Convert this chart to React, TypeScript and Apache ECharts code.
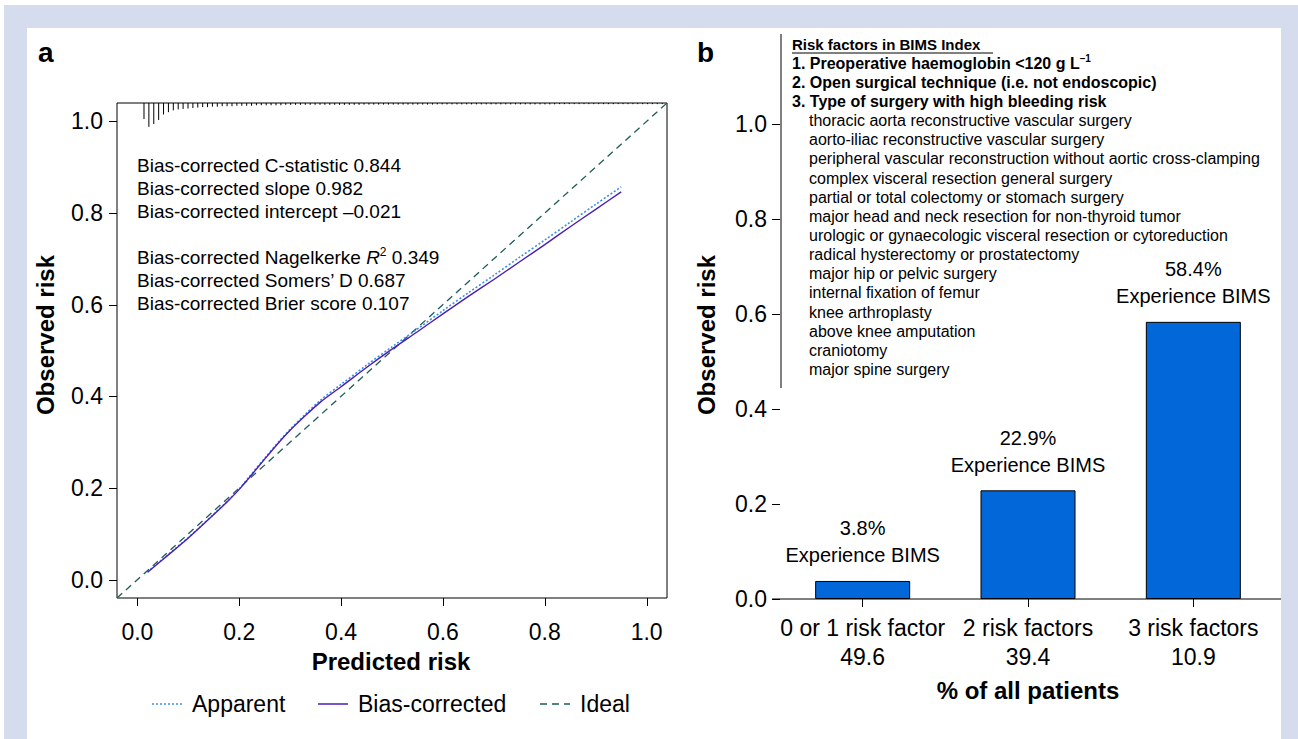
import React, { useEffect, useRef } from "react";
import * as echarts from "echarts";

const FONT = '"Liberation Sans", Arial, Helvetica, sans-serif';

// ---------- Panel a: calibration ----------
const predictedRisk = [0.02, 0.05, 0.08, 0.1, 0.12, 0.15, 0.18, 0.2, 0.22, 0.25, 0.28, 0.3, 0.33, 0.36, 0.4, 0.45, 0.5, 0.55, 0.6, 0.65, 0.7, 0.75, 0.8, 0.85, 0.9, 0.95];
const observedBiasCorrected = [0.016, 0.044, 0.072, 0.091, 0.111, 0.142, 0.174, 0.197, 0.223, 0.263, 0.302, 0.326, 0.358, 0.388, 0.421, 0.463, 0.503, 0.541, 0.58, 0.618, 0.655, 0.693, 0.731, 0.77, 0.808, 0.846];
const observedApparent = [0.017, 0.045, 0.073, 0.092, 0.112, 0.143, 0.175, 0.198, 0.225, 0.265, 0.304, 0.328, 0.361, 0.392, 0.426, 0.468, 0.508, 0.547, 0.587, 0.626, 0.664, 0.703, 0.741, 0.78, 0.819, 0.857];
const idealX = [-0.04, 1.04];
const axisTicksA = [0, 0.2, 0.4, 0.6, 0.8, 1.0];

// distribution of predicted values (spike histogram at top)
const rugStart = 0.013;
const rugStep = 0.0096;
const rugHeights = [
  0.035, 0.052, 0.046, 0.037, 0.025, 0.02, 0.016, 0.014, 0.013, 0.012,
  0.011, 0.01, 0.009, 0.009, 0.008, 0.008, 0.007, 0.007, 0.007, 0.006,
  0.006, 0.006, 0.006, 0.005, 0.005, 0.005, 0.005, 0.005, 0.005, 0.004,
  0.004, 0.004, 0.004, 0.004, 0.004, 0.004, 0.004, 0.004, 0.004, 0.004,
  0.004, 0.004, 0.004, 0.004, 0.004, 0.0035, 0.0035, 0.0035, 0.0035, 0.0035,
  0.0035, 0.0035, 0.0035, 0.0035, 0.0035, 0.0035, 0.0035, 0.0035, 0.0035, 0.0035,
  0.003, 0.003, 0.003, 0.003, 0.003, 0.003, 0.003, 0.003, 0.003, 0.003,
  0.003, 0.003, 0.003, 0.003, 0.003, 0.003, 0.003, 0.003, 0.003, 0.003,
  0.003, 0.003, 0.003, 0.003, 0.003, 0.0025, 0.0025, 0.0025, 0.0025, 0.0025,
  0.0025, 0.0025, 0.0025, 0.0025, 0.0025, 0.0025, 0.0025, 0.0025, 0.0025, 0.0025,
  0.0025, 0.0025, 0.0025, 0.0025, 0.0025, 0.0025, 0.0025,
];

const statsLines = [
  "Bias-corrected C-statistic 0.844",
  "Bias-corrected slope 0.982",
  "Bias-corrected intercept \u20130.021",
  "",
  "Bias-corrected Nagelkerke {it|R}{sup|2} 0.349",
  "Bias-corrected Somers\u2019 D 0.687",
  "Bias-corrected Brier score 0.107",
];
const legendNames = ["Apparent", "Bias-corrected", "Ideal"];

// ---------- Panel b: BIMS ----------
const riskCategories = ["0 or 1 risk factor", "2 risk factors", "3 risk factors"];
const patientShare = ["49.6", "39.4", "10.9"];
const bimsRate = [0.038, 0.229, 0.584];
const axisTicksB = [0, 0.2, 0.4, 0.6, 0.8, 1.0];

const boxTitle = "Risk factors in BIMS Index";
const boxCriteria = [
  "1. Preoperative haemoglobin <120 g L{sup|\u20131}",
  "2. Open surgical technique (i.e. not endoscopic)",
  "3. Type of surgery with high bleeding risk",
];
const boxSurgeries = [
  "thoracic aorta reconstructive vascular surgery",
  "aorto-iliac reconstructive vascular surgery",
  "peripheral vascular reconstruction without aortic cross-clamping",
  "complex visceral resection general surgery",
  "partial or total colectomy or stomach surgery",
  "major head and neck resection for non-thyroid tumor",
  "urologic or gynaecologic visceral resection or cytoreduction",
  "radical hysterectomy or prostatectomy",
  "major hip or pelvic surgery",
  "internal fixation of femur",
  "knee arthroplasty",
  "above knee amputation",
  "craniotomy",
  "major spine surgery",
];

const C_APPARENT = "#3a8fe8";
const C_BIAS = "#4a1db5";
const C_IDEAL = "#1d5c57";
const C_BAR = "#0268d9";

// panel a plot region (grid geometry) and axis range
const GA = { left: 117, top: 103, width: 550, height: 495 };
const A_MIN = -0.04;
const A_MAX = 1.04;

function buildOption() {
  const graphic: any[] = [];
  const txt = (x: number, y: number, text: string, opts: any = {}) =>
    graphic.push({
      type: "text",
      x,
      y,
      rotation: opts.rotation || 0,
      style: {
        text,
        fill: "#000",
        fontFamily: FONT,
        fontSize: opts.size || 16,
        fontWeight: opts.bold ? "bold" : "normal",
        align: opts.align || "left",
        verticalAlign: "middle",
        rich: opts.rich,
      },
    });

  // panel labels
  txt(38, 52, "a", { size: 28, bold: true });
  txt(697, 52, "b", { size: 28, bold: true });

  // panel a stats
  const statRich = {
    it: { fontStyle: "italic", fontSize: 19, fontFamily: FONT },
    sup: { fontSize: 12, fontFamily: FONT, padding: [0, 0, 10, 0] },
  };
  statsLines.forEach((s, i) => {
    if (s) txt(137, 165 + i * 23, s, { size: 19, rich: statRich });
  });

  // axis titles
  txt(391, 661, "Predicted risk", { size: 24, bold: true, align: "center" });
  txt(45, 335, "Observed risk", { size: 24, bold: true, align: "center", rotation: Math.PI / 2 });
  txt(706, 335, "Observed risk", { size: 24, bold: true, align: "center", rotation: Math.PI / 2 });
  txt(1028, 690, "% of all patients", { size: 24, bold: true, align: "center" });

  // legend (panel a)
  const legendX = [152, 318, 540];
  const legendStyles = [
    { stroke: C_APPARENT, lineWidth: 1.5, lineDash: [2, 2] },
    { stroke: C_BIAS, lineWidth: 1.5 },
    { stroke: C_IDEAL, lineWidth: 1.3, lineDash: [7, 5] },
  ];
  legendNames.forEach((n, i) => {
    graphic.push({
      type: "line",
      shape: { x1: legendX[i], y1: 704, x2: legendX[i] + 30, y2: 704 },
      style: legendStyles[i],
    });
    txt(legendX[i] + 40, 704, n, { size: 23 });
  });

  // panel b text box
  const boxRich = { sup: { fontSize: 10, fontWeight: "bold", fontFamily: FONT, padding: [0, 0, 9, 0] } };
  const lineGap = 19.15;
  txt(792, 44, boxTitle, { size: 15, bold: true });
  graphic.push({ type: "line", shape: { x1: 792, y1: 53, x2: 993, y2: 53 }, style: { stroke: "#000", lineWidth: 1 } });
  boxCriteria.forEach((s, i) => txt(792, 44 + (i + 1) * lineGap, s, { size: 16, bold: true, rich: boxRich }));
  boxSurgeries.forEach((s, i) => txt(809, 44 + (i + 4) * lineGap, s, { size: 16 }));
  graphic.push({ type: "line", shape: { x1: 781, y1: 34, x2: 781, y2: 388 }, style: { stroke: "#000", lineWidth: 1 } });
  // panel b x axis line
  graphic.push({ type: "line", shape: { x1: 772, y1: 599, x2: 1281, y2: 599 }, style: { stroke: "#000", lineWidth: 1 } });

  // panel a outward tick marks at the axis tick values
  const bottom = GA.top + GA.height;
  axisTicksA.forEach((v) => {
    const f = (v - A_MIN) / (A_MAX - A_MIN);
    const px = Math.round(GA.left + f * GA.width) + 0.5;
    const py = Math.round(bottom - f * GA.height) + 0.5;
    graphic.push({ type: "line", z: 100, shape: { x1: px, y1: bottom, x2: px, y2: bottom + 8 }, style: { stroke: "#000", lineWidth: 1 } });
    graphic.push({ type: "line", z: 100, shape: { x1: GA.left - 8, y1: py, x2: GA.left, y2: py }, style: { stroke: "#000", lineWidth: 1 } });
  });

  const fmt1 = (v: number) => v.toFixed(1);

  return {
    animation: false,
    textStyle: { fontFamily: FONT, color: "#000" },
    graphic,
    grid: [
      { ...GA, show: true, borderColor: "#000", borderWidth: 1, backgroundColor: "transparent" },
      { left: 780, top: 39, width: 496, height: 560 },
    ],
    xAxis: [
      {
        type: "value",
        gridIndex: 0,
        min: A_MIN,
        max: A_MAX,
        position: "bottom",
        axisLine: { show: false, onZero: false },
        splitLine: { show: false },
        axisTick: { show: false },
        axisLabel: { customValues: axisTicksA, formatter: fmt1, fontSize: 23, color: "#000", margin: 22, fontFamily: FONT },
      },
      {
        type: "category",
        gridIndex: 1,
        data: riskCategories,
        position: "bottom",
        axisLine: { show: false, onZero: false },
        axisTick: { show: true, alignWithLabel: true, length: 8, lineStyle: { color: "#000" } },
        axisLabel: {
          interval: 0,
          fontSize: 23,
          lineHeight: 29,
          color: "#000",
          margin: 14,
          fontFamily: FONT,
          formatter: (v: string, i: number) => `${v}\n${patientShare[i]}`,
        },
      },
    ],
    yAxis: [
      {
        type: "value",
        gridIndex: 0,
        min: A_MIN,
        max: A_MAX,
        position: "left",
        axisLine: { show: false, onZero: false },
        splitLine: { show: false },
        axisTick: { show: false },
        axisLabel: { customValues: axisTicksA, formatter: fmt1, fontSize: 23, color: "#000", margin: 14, fontFamily: FONT },
      },
      {
        type: "value",
        gridIndex: 1,
        min: 0,
        max: 1.18,
        position: "left",
        axisLine: { show: false, onZero: false },
        splitLine: { show: false },
        axisTick: { show: true, length: 8, customValues: axisTicksB, lineStyle: { color: "#000" } },
        axisLabel: { customValues: axisTicksB, formatter: fmt1, fontSize: 23, color: "#000", margin: 13, fontFamily: FONT },
      },
    ],
    series: [
      {
        type: "custom",
        name: "rug",
        xAxisIndex: 0,
        yAxisIndex: 0,
        data: rugHeights.map((h, i) => [rugStart + i * rugStep, h]),
        renderItem: (_p: any, api: any) => {
          const x = api.value(0);
          const h = api.value(1);
          const a = api.coord([x, A_MAX]);
          const b = api.coord([x, A_MAX - h]);
          return {
            type: "line",
            shape: { x1: a[0], y1: a[1], x2: b[0], y2: b[1] },
            style: { stroke: "#000", lineWidth: 1 },
          };
        },
        silent: true,
      },
      {
        type: "line",
        name: legendNames[2],
        xAxisIndex: 0,
        yAxisIndex: 0,
        data: idealX.map((x) => [x, x]),
        symbol: "none",
        lineStyle: { color: C_IDEAL, width: 1.3, type: [7, 5] },
        z: 3,
      },
      {
        type: "line",
        name: legendNames[0],
        xAxisIndex: 0,
        yAxisIndex: 0,
        data: predictedRisk.map((x, i) => [x, observedApparent[i]]),
        symbol: "none",
        smooth: 0.3,
        lineStyle: { color: C_APPARENT, width: 1.6, type: [2, 2] },
        z: 4,
      },
      {
        type: "line",
        name: legendNames[1],
        xAxisIndex: 0,
        yAxisIndex: 0,
        data: predictedRisk.map((x, i) => [x, observedBiasCorrected[i]]),
        symbol: "none",
        smooth: 0.3,
        lineStyle: { color: C_BIAS, width: 1.4 },
        z: 5,
      },
      {
        type: "bar",
        xAxisIndex: 1,
        yAxisIndex: 1,
        data: bimsRate,
        barWidth: 95,
        itemStyle: { color: C_BAR, borderColor: "#000", borderWidth: 1 },
        label: {
          show: true,
          position: "top",
          distance: 12,
          fontSize: 20,
          lineHeight: 27,
          color: "#000",
          fontFamily: FONT,
          formatter: (p: any) => `${(p.value * 100).toFixed(1)}%\nExperience BIMS`,
        },
      },
    ],
  };
}

export default function App() {
  const ref = useRef<HTMLDivElement>(null);
  useEffect(() => {
    document.body.style.margin = "0";
    const chart = echarts.init(ref.current!, null, { renderer: "svg" });
    chart.setOption(buildOption() as any);
    return () => chart.dispose();
  }, []);
  return (
    <div style={{ position: "relative", width: 1298, height: 739, background: "#fff", overflow: "hidden" }}>
      <div style={{ position: "absolute", left: 4, top: 5, right: 0, bottom: 0, background: "#d5dcee" }} />
      <div style={{ position: "absolute", left: 27, top: 28, width: 1254, height: 711, background: "#fff" }} />
      <div ref={ref} style={{ position: "absolute", left: 0, top: 0, width: 1298, height: 739 }} />
    </div>
  );
}
